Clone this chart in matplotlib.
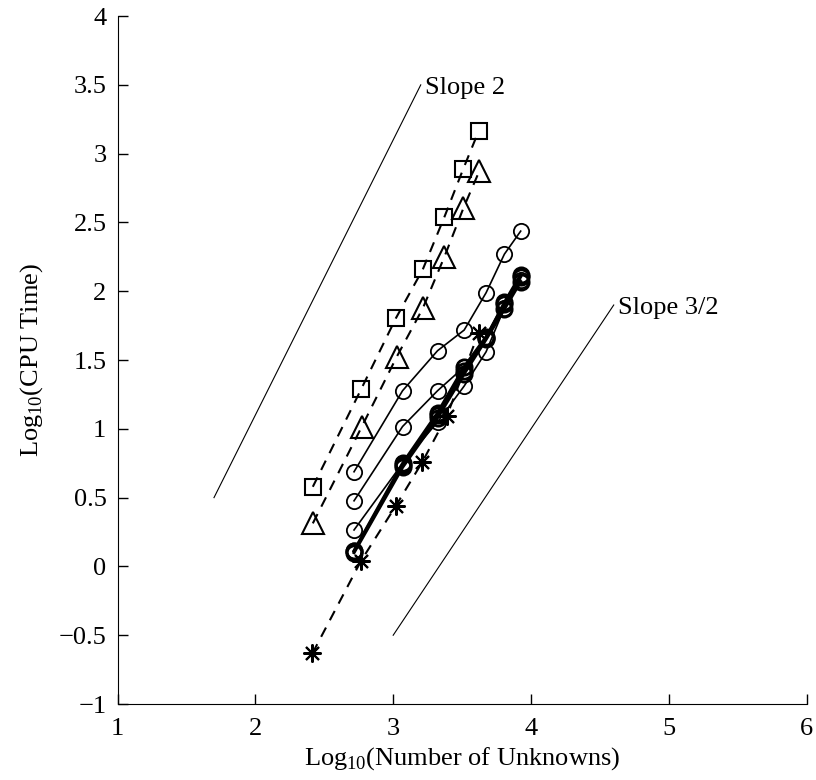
import numpy as np
import matplotlib
matplotlib.use('Agg')
import matplotlib.pyplot as plt

plt.rcParams['font.family'] = ['Liberation Serif', 'DejaVu Serif']
plt.rcParams['mathtext.fontset'] = 'custom'
plt.rcParams['mathtext.rm'] = 'Liberation Serif'

# x positions (log10 of unknowns)
x_sq = [2.417, 2.767, 3.019, 3.215, 3.372, 3.507, 3.621]
y_sq = [0.579, 1.287, 1.803, 2.159, 2.541, 2.886, 3.166]

x_tri = [2.417, 2.772, 3.026, 3.215, 3.372, 3.509, 3.626]
y_tri = [0.313, 1.015, 1.524, 1.876, 2.251, 2.603, 2.876]

x_ast = [2.414, 2.767, 3.019, 3.212, 3.389, 3.620]
y_ast = [-0.632, 0.041, 0.440, 0.760, 1.093, 1.698]

x_circ = [2.716, 3.068, 3.322, 3.515, 3.674, 3.807, 3.925]
y_thin_a = [0.688, 1.277, 1.568, 1.718, 1.989, 2.270, 2.437]
y_thin_b = [0.477, 1.017, 1.277, 1.450, 1.669, 1.907, 2.105]
y_thin_c = [0.265, 0.749, 1.050, 1.311, 1.560, 1.880, 2.080]
y_bold_1 = [0.114, 0.749, 1.117, 1.451, 1.669, 1.907, 2.105]
y_bold_2 = [0.100, 0.720, 1.080, 1.400, 1.650, 1.870, 2.070]
y_bold_3 = [0.110, 0.735, 1.100, 1.420, 1.660, 1.920, 2.120]

# reference slope lines
slope2_x = [1.7, 3.2]
slope2_y = [0.5, 3.5]
slope32_x = [3.0, 4.6]
slope32_y = [-0.5, 1.9]

fig = plt.figure(figsize=(8.16, 7.8), dpi=100)
ax = fig.add_axes([0.144, 0.0974, 0.8446, 0.882])

# dashed series
ax.plot(x_sq, y_sq, 'k--', marker='s', mfc='none', mec='k', ms=11, lw=1.5, mew=1.5, dashes=(5, 4))
ax.plot(x_tri, y_tri, 'k--', marker='^', mfc='none', mec='k', ms=16, lw=1.5, mew=1.5, dashes=(5, 4))
ax.plot(x_ast, y_ast, 'k--', marker=(8, 2, 0), mec='k', ms=13, lw=1.5, mew=1.5, dashes=(5, 4))

# thin circle series
for yy in [y_thin_a, y_thin_b, y_thin_c]:
    ax.plot(x_circ, yy, 'k-', marker='o', mfc='none', mec='k', ms=11, lw=1.2, mew=1.3)

# bold circle series
for yy in [y_bold_1, y_bold_2, y_bold_3]:
    ax.plot(x_circ, yy, 'k-', marker='o', mfc='none', mec='k', ms=11, lw=2.2, mew=2.0)

# slope guides
ax.plot(slope2_x, slope2_y, 'k-', lw=0.8)
ax.plot(slope32_x, slope32_y, 'k-', lw=0.8)
ax.text(slope2_x[1] + 0.03, slope2_y[1] - 0.02, 'Slope 2', fontsize=19, va='center', ha='left')
ax.text(slope32_x[1] + 0.03, slope32_y[1] - 0.02, 'Slope 3/2', fontsize=19, va='center', ha='left')

ax.set_xlim(1, 6)
ax.set_ylim(-1, 4)
ax.set_xticks([1, 2, 3, 4, 5, 6])
ax.set_yticks(np.arange(-1, 4.01, 0.5))
ax.set_yticklabels(['\u22121', '\u22120.5', '0', '0.5', '1', '1.5', '2', '2.5', '3', '3.5', '4'])
ax.tick_params(axis='both', direction='in', length=7, width=1, labelsize=19)
ax.tick_params(axis='x', pad=10)
ax.tick_params(axis='y', pad=8)
ax.spines['top'].set_visible(False)
ax.spines['right'].set_visible(False)
ax.set_xlabel(r'Log$_{10}$(Number of Unknowns)', fontsize=19, labelpad=4)
ax.set_ylabel(r'Log$_{10}$(CPU Time)', fontsize=19, labelpad=10)

fig.savefig('out.png', dpi=100)
